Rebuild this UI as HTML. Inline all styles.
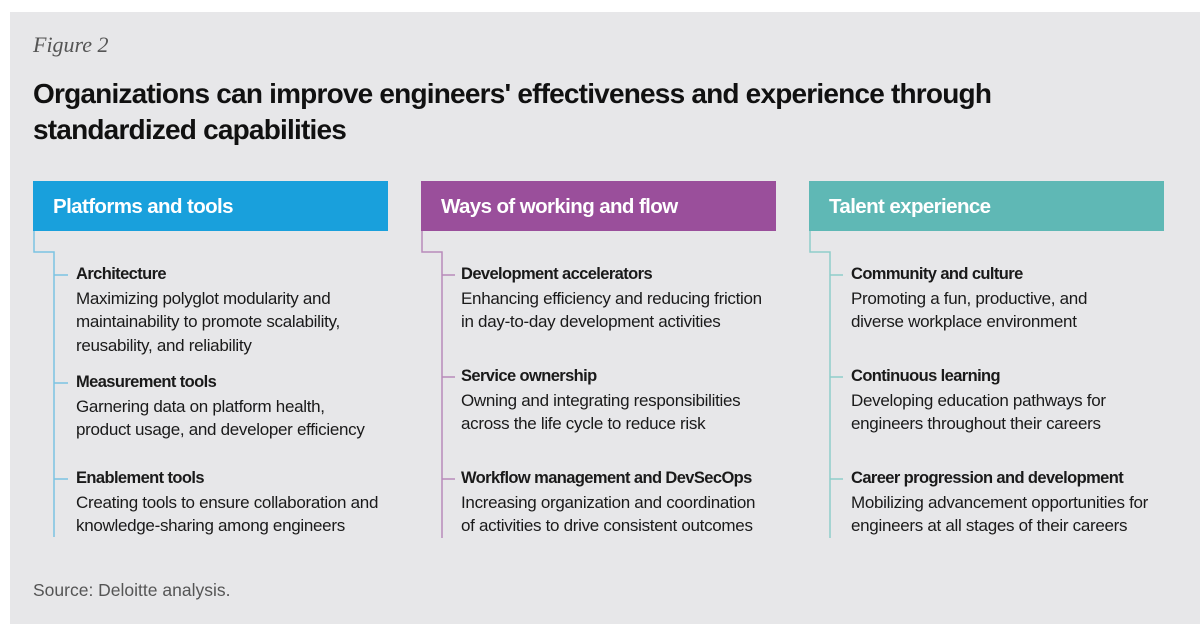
<!DOCTYPE html>
<html><head><meta charset="utf-8"><style>
body{margin:0;width:1200px;height:642px;background:#fff;position:relative;overflow:hidden;font-family:"Liberation Sans",sans-serif;color:#1a1a1a}
.panel{position:absolute;left:10px;top:12px;width:1190px;height:612px;background:#e7e7e9}
.a{position:absolute;white-space:nowrap}
.fig{left:33px;top:32px;font-family:"Liberation Serif",serif;font-style:italic;font-size:22px;color:#555}
.title{left:33px;top:76px;font-weight:bold;font-size:28px;line-height:36px;color:#111;letter-spacing:-0.8px}
.hdr{position:absolute;top:181px;height:50px;width:355px;color:#fff;font-weight:bold;font-size:20.5px;line-height:52px;box-sizing:border-box;padding-left:20px;letter-spacing:-0.6px}
.item{position:absolute;font-size:17px;line-height:23.5px;white-space:nowrap;letter-spacing:-0.3px}
.item b{display:block;font-size:16.5px;letter-spacing:-0.6px}
.src{left:33px;top:580px;font-size:17.5px;color:#555}
</style></head><body>
<div class="panel"></div>
<div class="a fig">Figure 2</div>
<div class="a title">Organizations can improve engineers' effectiveness and experience through<br>standardized capabilities</div>

<div class="hdr" style="left:33px;background:#19a0dc">Platforms and tools</div>
<div class="hdr" style="left:421px;background:#9a4f9b">Ways of working and flow</div>
<div class="hdr" style="left:809px;background:#5fb8b5">Talent experience</div>

<svg width="1200" height="642" style="position:absolute;left:0;top:0" fill="none" stroke-width="1.5">
<g stroke="#7cc4e2">
<path d="M34 231V252H54V537M54 275H68M54 383H68M54 479H68"/>
</g>
<g stroke="#b98bbb">
<path d="M422 231V252H442V538M442 275H455M442 377H455M442 479H455"/>
</g>
<g stroke="#8fcdca">
<path d="M810 231V252H830V538M830 275H843M830 377H843M830 479H843"/>
</g>
</svg>

<div class="item" style="left:76px;top:263px"><b>Architecture</b>Maximizing polyglot modularity and<br>maintainability to promote scalability,<br>reusability, and reliability</div>
<div class="item" style="left:76px;top:371px"><b>Measurement tools</b>Garnering data on platform health,<br>product usage, and developer efficiency</div>
<div class="item" style="left:76px;top:467px"><b>Enablement tools</b>Creating tools to ensure collaboration and<br>knowledge-sharing among engineers</div>

<div class="item" style="left:461px;top:263px"><b>Development accelerators</b>Enhancing efficiency and reducing friction<br>in day-to-day development activities</div>
<div class="item" style="left:461px;top:365px"><b>Service ownership</b>Owning and integrating responsibilities<br>across the life cycle to reduce risk</div>
<div class="item" style="left:461px;top:467px"><b>Workflow management and DevSecOps</b>Increasing organization and coordination<br>of activities to drive consistent outcomes</div>

<div class="item" style="left:851px;top:263px"><b>Community and culture</b>Promoting a fun, productive, and<br>diverse workplace environment</div>
<div class="item" style="left:851px;top:365px"><b>Continuous learning</b>Developing education pathways for<br>engineers throughout their careers</div>
<div class="item" style="left:851px;top:467px"><b>Career progression and development</b>Mobilizing advancement opportunities for<br>engineers at all stages of their careers</div>

<div class="a src">Source: Deloitte analysis.</div>
</body></html>
